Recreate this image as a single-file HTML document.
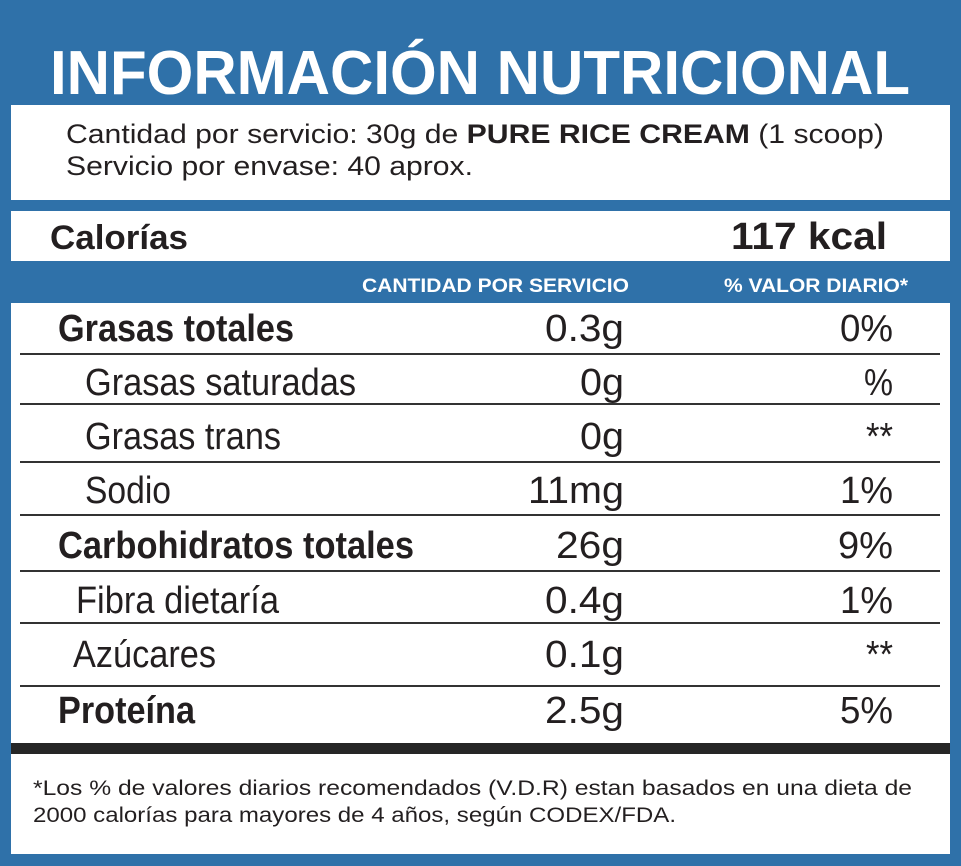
<!DOCTYPE html>
<html><head><meta charset="utf-8"><style>
html,body{margin:0;padding:0;background:#2f71a9;}
svg{display:block}
text{font-family:"Liberation Sans",Arial,sans-serif;fill:#231f20}
</style></head><body>
<svg width="961" height="866" viewBox="0 0 961 866" xmlns="http://www.w3.org/2000/svg">
<rect x="0" y="0" width="961" height="866" fill="#2f71a9"/>
<rect x="11" y="105" width="939" height="749" fill="#ffffff"/>
<rect x="11" y="200" width="939" height="11" fill="#2f71a9"/>
<rect x="11" y="261" width="939" height="42" fill="#2f71a9"/>
<rect x="11" y="743" width="939" height="11" fill="#262626"/>
<g stroke="#333" stroke-width="2">
<line x1="20" y1="354" x2="940" y2="354"/>
<line x1="20" y1="404" x2="940" y2="404"/>
<line x1="20" y1="462" x2="940" y2="462"/>
<line x1="20" y1="515" x2="940" y2="515"/>
<line x1="20" y1="571" x2="940" y2="571"/>
<line x1="20" y1="623" x2="940" y2="623"/>
<line x1="20" y1="686" x2="940" y2="686"/>
</g>
<text x="50" y="94" font-size="62" font-weight="bold" style="fill:#fff" textLength="860" lengthAdjust="spacingAndGlyphs">INFORMACIÓN NUTRICIONAL</text>
<text x="66" y="143" font-size="27" textLength="818" lengthAdjust="spacingAndGlyphs">Cantidad por servicio: 30g de <tspan font-weight="bold">PURE RICE CREAM</tspan> (1 scoop)</text>
<text x="66" y="175" font-size="27" textLength="407" lengthAdjust="spacingAndGlyphs">Servicio por envase: 40 aprox.</text>
<text x="50" y="249" font-size="34" font-weight="bold" textLength="138" lengthAdjust="spacingAndGlyphs">Calorías</text>
<text x="731" y="249" font-size="38" font-weight="bold" textLength="156" lengthAdjust="spacingAndGlyphs">117 kcal</text>
<text x="362" y="292" font-size="19" font-weight="bold" style="fill:#fff" textLength="267" lengthAdjust="spacingAndGlyphs">CANTIDAD POR SERVICIO</text>
<text x="724" y="292" font-size="19" font-weight="bold" style="fill:#fff" textLength="184" lengthAdjust="spacingAndGlyphs">% VALOR DIARIO*</text>

<g font-size="38">
<text x="58" y="341" font-weight="bold" textLength="236" lengthAdjust="spacingAndGlyphs">Grasas totales</text>
<text x="85" y="395" textLength="271" lengthAdjust="spacingAndGlyphs">Grasas saturadas</text>
<text x="85" y="449" textLength="196" lengthAdjust="spacingAndGlyphs">Grasas trans</text>
<text x="85" y="503" textLength="86" lengthAdjust="spacingAndGlyphs">Sodio</text>
<text x="58" y="558" font-weight="bold" textLength="356" lengthAdjust="spacingAndGlyphs">Carbohidratos totales</text>
<text x="76" y="613" textLength="203" lengthAdjust="spacingAndGlyphs">Fibra dietaría</text>
<text x="73" y="667" textLength="143" lengthAdjust="spacingAndGlyphs">Azúcares</text>
<text x="58" y="723" font-weight="bold" textLength="137" lengthAdjust="spacingAndGlyphs">Proteína</text>

<text x="545" y="341" textLength="79" lengthAdjust="spacingAndGlyphs">0.3g</text>
<text x="580" y="395" textLength="44" lengthAdjust="spacingAndGlyphs">0g</text>
<text x="580" y="449" textLength="44" lengthAdjust="spacingAndGlyphs">0g</text>
<text x="528" y="503" textLength="96" lengthAdjust="spacingAndGlyphs">11mg</text>
<text x="556" y="558" textLength="68" lengthAdjust="spacingAndGlyphs">26g</text>
<text x="545" y="613" textLength="79" lengthAdjust="spacingAndGlyphs">0.4g</text>
<text x="545" y="667" textLength="79" lengthAdjust="spacingAndGlyphs">0.1g</text>
<text x="545" y="723" textLength="79" lengthAdjust="spacingAndGlyphs">2.5g</text>

<text x="840" y="341" textLength="53" lengthAdjust="spacingAndGlyphs">0%</text>
<text x="864" y="395" textLength="29" lengthAdjust="spacingAndGlyphs">%</text>
<text x="866" y="449" textLength="27" lengthAdjust="spacingAndGlyphs">**</text>
<text x="840" y="503" textLength="53" lengthAdjust="spacingAndGlyphs">1%</text>
<text x="838" y="558" textLength="55" lengthAdjust="spacingAndGlyphs">9%</text>
<text x="840" y="613" textLength="53" lengthAdjust="spacingAndGlyphs">1%</text>
<text x="866" y="667" textLength="27" lengthAdjust="spacingAndGlyphs">**</text>
<text x="840" y="723" textLength="53" lengthAdjust="spacingAndGlyphs">5%</text>
</g>

<text x="33" y="795" font-size="21" textLength="879" lengthAdjust="spacingAndGlyphs">*Los % de valores diarios recomendados (V.D.R) estan basados en una dieta de</text>
<text x="33" y="822" font-size="21" textLength="643" lengthAdjust="spacingAndGlyphs">2000 calorías para mayores de 4 años, según CODEX/FDA.</text>
</svg>
</body></html>
